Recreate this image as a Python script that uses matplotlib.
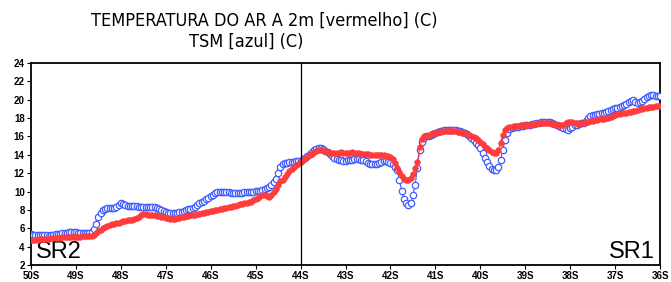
import numpy as np
import matplotlib
matplotlib.use("Agg")
import matplotlib.pyplot as plt
from matplotlib.ticker import FixedLocator

# latitude grid (degrees, negative = south), 0.05 deg sampling
lat = np.linspace(-50.0, -36.0, 281)

# Sea surface temperature (TSM) [blue], C
tsm = [
    5.35, 5.3, 5.3, 5.3, 5.3, 5.25, 5.25, 5.25, 5.2, 5.25, 5.3, 5.35, 5.35, 5.4, 5.45, 5.5, 5.5, 5.55, 5.6, 5.6,
    5.55, 5.5, 5.5, 5.45, 5.45, 5.5, 5.5, 5.55, 5.9, 6.5, 7.2, 7.7, 8.0, 8.1, 8.2, 8.2, 8.2, 8.25, 8.3, 8.5,
    8.7, 8.6, 8.5, 8.45, 8.45, 8.4, 8.4, 8.4, 8.35, 8.35, 8.35, 8.35, 8.35, 8.3, 8.3, 8.3, 8.2, 8.1, 8.0, 7.9,
    7.8, 7.7, 7.65, 7.65, 7.7, 7.7, 7.75, 7.8, 7.85, 7.95, 8.05, 8.15, 8.25, 8.35, 8.5, 8.7, 8.85, 9.0, 9.15, 9.35,
    9.5, 9.65, 9.8, 9.9, 9.95, 10.0, 10.0, 9.95, 9.9, 9.85, 9.8, 9.8, 9.8, 9.85, 9.85, 9.9, 9.9, 9.95, 10.0, 10.0,
    10.05, 10.1, 10.1, 10.2, 10.3, 10.35, 10.5, 10.7, 11.0, 11.4, 12.0, 12.7, 13.0, 13.1, 13.15, 13.2, 13.2, 13.25, 13.3, 13.3,
    13.35, 13.5, 13.7, 13.9, 14.1, 14.3, 14.5, 14.65, 14.7, 14.7, 14.6, 14.45, 14.3, 14.1, 13.9, 13.7, 13.55, 13.45, 13.4, 13.35,
    13.35, 13.4, 13.4, 13.45, 13.5, 13.5, 13.5, 13.45, 13.4, 13.3, 13.15, 13.0, 12.95, 12.95, 13.0, 13.1, 13.2, 13.3, 13.3, 13.2,
    13.1, 13.0, 12.7, 12.3, 11.3, 10.1, 9.2, 8.7, 8.5, 8.7, 9.6, 10.7, 12.6, 14.5, 15.4, 15.8, 16.0, 16.1, 16.2, 16.3,
    16.4, 16.5, 16.55, 16.6, 16.65, 16.7, 16.7, 16.7, 16.7, 16.65, 16.6, 16.55, 16.5, 16.4, 16.25, 16.0, 15.8, 15.6, 15.3, 15.1,
    14.7, 14.2, 13.7, 13.2, 12.8, 12.5, 12.3, 12.3, 12.7, 13.4, 14.5, 15.6, 16.4, 16.8, 16.9, 17.0, 17.0, 17.05, 17.1, 17.15,
    17.2, 17.25, 17.3, 17.35, 17.4, 17.45, 17.5, 17.55, 17.6, 17.6, 17.6, 17.55, 17.5, 17.4, 17.3, 17.1, 17.0, 16.9, 16.8, 16.75,
    16.9, 17.05, 17.2, 17.3, 17.4, 17.45, 17.5, 17.7, 18.0, 18.2, 18.3, 18.35, 18.4, 18.45, 18.5, 18.6, 18.7, 18.8, 18.9, 18.95,
    19.05, 19.15, 19.25, 19.3, 19.4, 19.55, 19.7, 19.85, 20.0, 19.8, 19.6, 19.7, 19.9, 20.1, 20.3, 20.45, 20.5, 20.5, 20.45, 20.4,
    20.4,
]

# Air temperature at 2 m [red], C
t2m = [
    4.7, 4.7, 4.75, 4.75, 4.8, 4.8, 4.85, 4.85, 4.85, 4.9, 4.9, 4.9, 4.95, 4.95, 5.0, 5.0, 5.0, 5.05, 5.05, 5.05,
    5.1, 5.1, 5.1, 5.15, 5.15, 5.15, 5.2, 5.2, 5.3, 5.5, 5.7, 5.85, 6.0, 6.15, 6.3, 6.4, 6.45, 6.5, 6.55, 6.6,
    6.7, 6.75, 6.8, 6.85, 6.9, 6.95, 7.0, 7.1, 7.25, 7.45, 7.55, 7.55, 7.5, 7.5, 7.45, 7.4, 7.35, 7.3, 7.25, 7.2,
    7.15, 7.1, 7.05, 7.0, 7.05, 7.1, 7.15, 7.2, 7.25, 7.3, 7.35, 7.4, 7.45, 7.5, 7.55, 7.6, 7.65, 7.7, 7.75, 7.8,
    7.85, 7.9, 7.95, 8.0, 8.05, 8.1, 8.2, 8.25, 8.3, 8.35, 8.4, 8.45, 8.55, 8.6, 8.65, 8.7, 8.8, 8.85, 8.9, 9.05,
    9.2, 9.35, 9.5, 9.6, 9.6, 9.5, 9.45, 9.6, 9.9, 10.3, 10.7, 11.1, 11.3, 11.6, 11.9, 12.2, 12.5, 12.7, 12.9, 13.05,
    13.2, 13.4, 13.6, 13.8, 13.95, 14.1, 14.3, 14.45, 14.55, 14.55, 14.5, 14.4, 14.3, 14.25, 14.2, 14.2, 14.2, 14.25, 14.3, 14.25,
    14.2, 14.2, 14.25, 14.3, 14.25, 14.2, 14.15, 14.1, 14.1, 14.05, 14.05, 14.0, 14.0, 14.0, 14.0, 14.0, 13.95, 13.95, 13.9, 13.85,
    13.75, 13.5, 13.1, 12.6, 12.1, 11.7, 11.4, 11.3, 11.3, 11.5, 11.9, 12.6, 13.2, 14.8, 15.7, 16.0, 16.1, 16.2, 16.3, 16.35,
    16.4, 16.45, 16.5, 16.55, 16.55, 16.6, 16.6, 16.6, 16.6, 16.55, 16.5, 16.45, 16.4, 16.35, 16.3, 16.2, 16.1, 15.95, 15.8, 15.6,
    15.4, 15.15, 14.9, 14.7, 14.5, 14.35, 14.25, 14.2, 14.5, 15.3, 16.2, 16.7, 16.9, 17.0, 17.05, 17.1, 17.1, 17.15, 17.2, 17.2,
    17.25, 17.3, 17.3, 17.35, 17.4, 17.4, 17.45, 17.45, 17.5, 17.5, 17.5, 17.45, 17.4, 17.35, 17.3, 17.2, 17.2, 17.3, 17.45, 17.55,
    17.6, 17.55, 17.5, 17.45, 17.4, 17.45, 17.5, 17.55, 17.6, 17.65, 17.7, 17.75, 17.8, 17.85, 17.9, 17.95, 18.0, 18.05, 18.15, 18.2,
    18.3, 18.4, 18.45, 18.5, 18.55, 18.6, 18.7, 18.7, 18.75, 18.8, 18.9, 18.95, 19.0, 19.05, 19.1, 19.2, 19.25, 19.25, 19.3, 19.3,
    19.3,
]

xticks = [-50, -49, -48, -47, -46, -45, -44, -43, -42, -41, -40, -39, -38, -37, -36]
xticklabels = ["50S", "49S", "48S", "47S", "46S", "45S", "44S", "43S", "42S",
               "41S", "40S", "39S", "38S", "37S", "36S"]
yticks = [2, 4, 6, 8, 10, 12, 14, 16, 18, 20, 22, 24]
title1 = "TEMPERATURA DO AR A 2m [vermelho] (C)"
title2 = "TSM [azul] (C)"
divider_lat = -44

fig = plt.figure(figsize=(6.71, 2.82), dpi=100)
ax = fig.add_axes([31 / 671, 1 - 265 / 282, (660 - 31) / 671, (265 - 63) / 282])

ax.plot(lat, tsm, color="#3f5cff", lw=0.8, marker="o", ms=4.6, mfc="white",
        mec="#3f5cff", mew=0.9, zorder=3)
ax.plot(lat, t2m, color="#ff3b3b", lw=0.8, marker="o", ms=4.0, mfc="#ff3b3b",
        mec="#ff3b3b", mew=0.5, zorder=4)
ax.axvline(divider_lat, color="black", lw=0.9, zorder=5)

ax.set_xlim(-50, -36)
ax.set_ylim(2, 24)
ax.xaxis.set_major_locator(FixedLocator(xticks))
ax.set_xticklabels(xticklabels)
ax.yaxis.set_major_locator(FixedLocator(yticks))
ax.tick_params(axis="both", direction="out", length=3, width=0.8, pad=1.5,
               labelsize=7)
for lab in ax.get_xticklabels() + ax.get_yticklabels():
    lab.set_fontweight("bold")
    lab.set_family(["Liberation Sans", "DejaVu Sans"])
for s in ax.spines.values():
    s.set_linewidth(1.3)

ax.text(0.008, 0.01, "SR2", transform=ax.transAxes, fontsize=17,
        family=["Liberation Sans", "DejaVu Sans"], ha="left", va="bottom")
ax.text(0.992, 0.01, "SR1", transform=ax.transAxes, fontsize=17,
        family=["Liberation Sans", "DejaVu Sans"], ha="right", va="bottom")

tfam = ["DejaVu Sans"]
fig.text(264 / 671, 1 - 21 / 282, title1, ha="center", va="center",
         fontsize=13, family=tfam, fontstretch="condensed", color="black")
fig.text(246 / 671, 1 - 42 / 282, title2, ha="center", va="center",
         fontsize=13, family=tfam, fontstretch="condensed", color="black")

fig.savefig("out.png", dpi=100)
